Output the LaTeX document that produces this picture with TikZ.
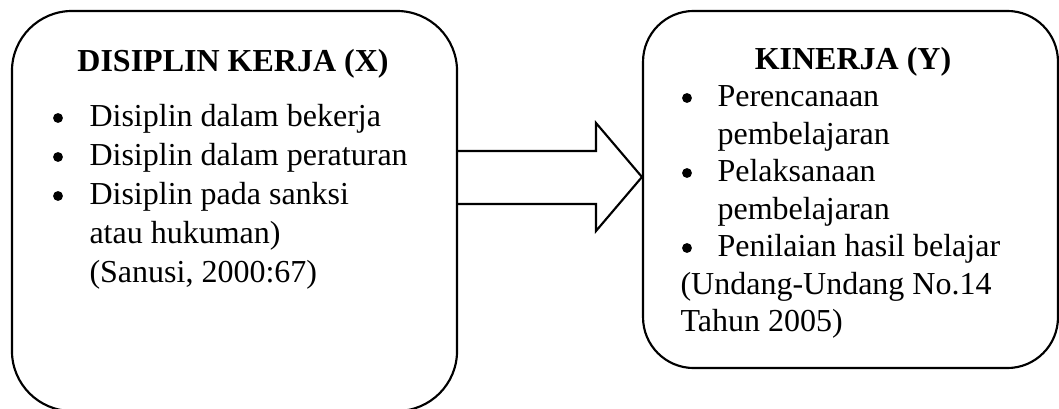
\documentclass[tikz,border=0pt]{standalone}
\usepackage{fontspec}
\setmainfont{Liberation Serif}
\begin{document}
\begin{tikzpicture}[x=0.375pt,y=-0.375pt,
  box/.style={draw,line width=0.8pt,rectangle,inner sep=0pt},
  txt/.style={anchor=base west,inner sep=0pt,font=\fontsize{12}{14}\selectfont},
  ttl/.style={anchor=base,inner sep=0pt,font=\fontsize{12}{14}\selectfont\bfseries},
  bul/.style={circle,fill=black,inner sep=0pt,minimum size=3.7pt},
  arr/.style={draw,line width=0.8pt,line join=miter}]
\useasboundingbox (0,0) rectangle (1059,409);
% boxes
\node[box,rounded corners=22.5pt,minimum width=166.9pt,minimum height=150pt] (L) at (234.5,211) {};
\node[box,rounded corners=19pt,minimum width=155.6pt,minimum height=133.9pt] (R) at (850.5,189.5) {};
% arrow
\coordinate (a1) at (596,151);
\coordinate (a2) at (596,123);
\coordinate (a3) at (596,231);
\coordinate (a4) at (596,204);
\coordinate (tipy) at (0,177);
\draw[arr] (L.east |- a1) -- (a1) -- (a2) -- (R.west |- tipy) -- (a3) -- (a4) -- (L.east |- a4);
% left text
\node[ttl] (lt) at (233,72) {DISIPLIN KERJA (X)};
\node[bul] (lb1) at (58,118) {};
\node[txt] (l1) at (89,127) {Disiplin dalam bekerja};
\node[bul] (lb2) at (58,157) {};
\node[txt] (l2) at (89,166) {Disiplin dalam peraturan};
\node[bul] (lb3) at (58,196) {};
\node[txt] (l3) at (89,205) {Disiplin pada sanksi};
\node[txt] (l4) at (89,244) {atau hukuman)};
\node[txt] (l5) at (89,283) {(Sanusi, 2000:67)};
% right text
\node[ttl] (rt) at (853,70) {KINERJA (Y)};
\node[bul] (rb1) at (687,98) {};
\node[txt] (r1) at (717,107) {Perencanaan};
\node[txt] (r2) at (717,144.5) {pembelajaran};
\node[bul] (rb2) at (687,173) {};
\node[txt] (r3) at (717,182) {Pelaksanaan};
\node[txt] (r4) at (717,219.5) {pembelajaran};
\node[bul] (rb3) at (687,248) {};
\node[txt] (r5) at (717,257) {Penilaian hasil belajar};
\node[txt] (r6) at (680,294.5) {(Undang-Undang No.14};
\node[txt] (r7) at (680,332) {Tahun 2005)};
\end{tikzpicture}
\end{document}
